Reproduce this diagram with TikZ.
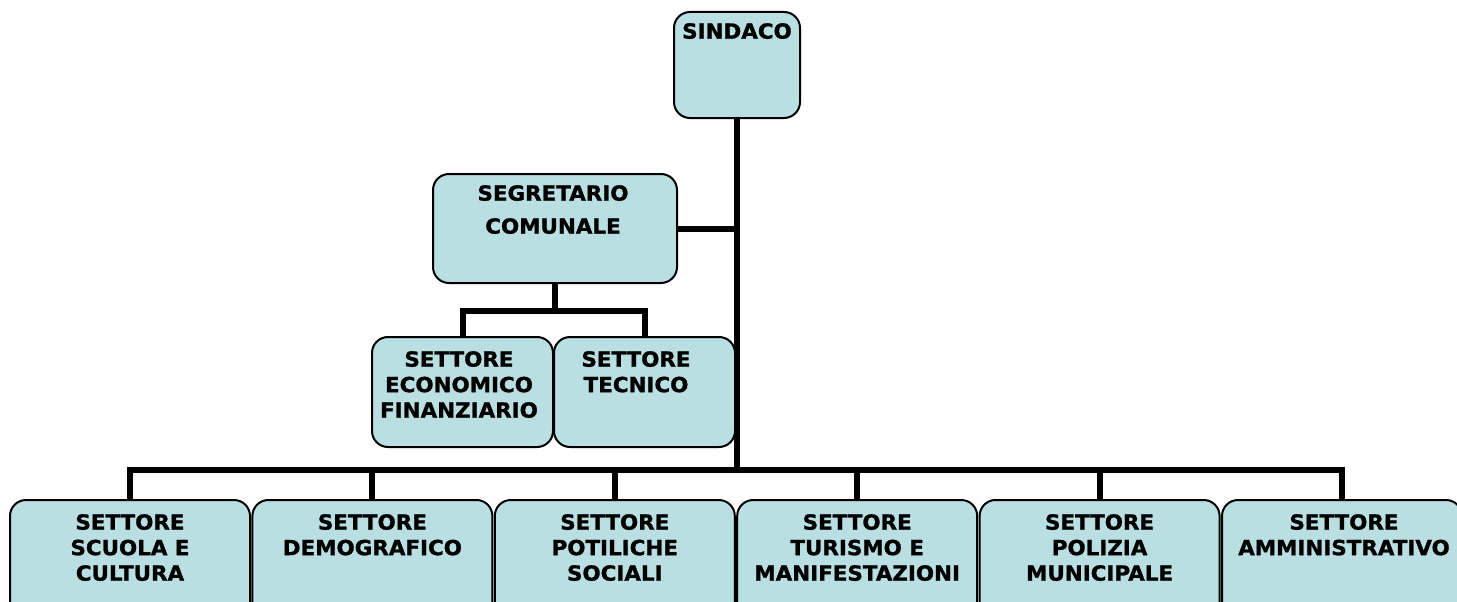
\documentclass[tikz,border=0pt]{standalone}
\usepackage{fontspec}
\setmainfont{DejaVu Sans}[FakeStretch=1.03,FakeBold=1.2]
\definecolor{boxfill}{RGB}{186,223,227}
\begin{document}
\begin{tikzpicture}[x=1pt,y=-1pt,
  box/.style={draw=black, line width=2pt, fill=boxfill, rounded corners=16pt, inner sep=0pt},
  txt/.style={font=\bfseries\fontsize{20.8}{25.5}\selectfont, align=center, inner sep=0pt, anchor=north},
  conn/.style={line width=6pt, line join=miter}]
\useasboundingbox (0,0) rectangle (1457,602);
\clip (0,0) rectangle (1457,602);
% coordinates
\coordinate (bus) at (737,470);
\coordinate (segj) at (555,311);
% connectors (drawn first)
\draw[conn] (737,118) -- (bus);
\draw[conn] (677,229) -- (737,229);
\draw[conn] (555,283) -- (segj);
\draw[conn] (462.5,337) |- (segj) -| (644.5,337);
\draw[conn] (130,500) |- (bus) -| (1342,500);
\foreach \x in {372.4,614.8,857.2,1099.6}{\draw[conn] (\x,500) -- (\x,470);}
% boxes
\node[box, minimum width=126pt, minimum height=106pt] (sindaco) at (737,65) {};
\node[txt] (sindacoT) at (737,23) {SINDACO};
\node[box, minimum width=244pt, minimum height=109pt] (seg) at (555,228.5) {};
\node[txt, font=\bfseries\fontsize{20.8}{33}\selectfont] (segT) at (553,185) {SEGRETARIO\\COMUNALE};
\node[box, minimum width=181pt, minimum height=110pt] (econ) at (462.5,392) {};
\node[txt] (econT) at (459,351) {SETTORE\\ECONOMICO\\FINANZIARIO};
\node[box, minimum width=181pt, minimum height=110pt] (tec) at (644.5,392) {};
\node[txt] (tecT) at (636,351) {SETTORE\\TECNICO};
\node[box, minimum width=240pt, minimum height=140pt] (b1) at (130,570) {};
\node[txt] (b1T) at (130,514) {SETTORE\\SCUOLA E\\CULTURA};
\node[box, minimum width=240pt, minimum height=140pt] (b2) at (372.4,570) {};
\node[txt] (b2T) at (372.4,514) {SETTORE\\DEMOGRAFICO};
\node[box, minimum width=240pt, minimum height=140pt] (b3) at (614.8,570) {};
\node[txt] (b3T) at (614.8,514) {SETTORE\\POTILICHE\\SOCIALI};
\node[box, minimum width=240pt, minimum height=140pt] (b4) at (857.2,570) {};
\node[txt] (b4T) at (857.2,514) {SETTORE\\TURISMO E\\MANIFESTAZIONI};
\node[box, minimum width=240pt, minimum height=140pt] (b5) at (1099.6,570) {};
\node[txt] (b5T) at (1099.6,514) {SETTORE\\POLIZIA\\MUNICIPALE};
\node[box, minimum width=240pt, minimum height=140pt] (b6) at (1342,570) {};
\node[txt] (b6T) at (1344,514) {SETTORE\\AMMINISTRATIVO};
\end{tikzpicture}
\end{document}
